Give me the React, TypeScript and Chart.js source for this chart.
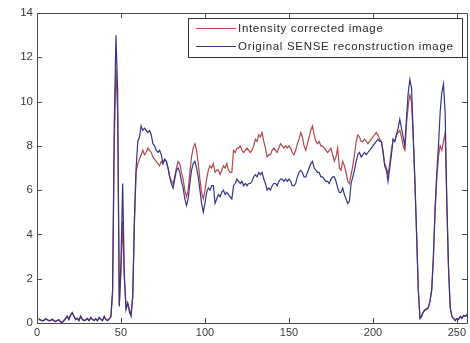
import React, { useEffect, useRef } from "react";
import { Chart, registerables } from "chart.js";

Chart.register(...registerables);

// sample positions along the profile (pixel index 1..256)
const sampleIndex: number[] = Array.from({ length: 256 }, (_, i) => i + 1);

const legendLabels = ["Intensity corrected image", "Original SENSE reconstruction image"];

const xTickValues = [0, 50, 100, 150, 200, 250];
const yTickValues = [0, 2, 4, 6, 8, 10, 12, 14];

// Intensity corrected image (red)
const correctedSeries: number[] = [
  0.18, 0.12, 0.12, 0.1, 0.18, 0.17, 0.12, 0.1, 0.15, 0.12,
  0.08, 0.12, 0.12, 0.06, 0.04, 0.12, 0.22, 0.32, 0.18, 0.38,
  0.48, 0.32, 0.18, 0.22, 0.12, 0.32, 0.18, 0.12, 0.12, 0.22,
  0.12, 0.22, 0.18, 0.12, 0.18, 0.12, 0.22, 0.18, 0.12, 0.28,
  0.18, 0.12, 0.18, 0.28,
  1.3, 8.0, 11.5, 9.5, 0.8, 2.3, 4.6, 2.0, 0.7, 0.9, 0.6, 0.4, 1.2, 4.5, 6.8, 7.2,
  7.4, 7.6, 7.8, 7.6, 7.7, 7.9, 7.8, 7.7, 7.5, 7.4,
  7.3, 7.2, 7.1, 7.3, 7.2, 7.4, 7.3, 7.0, 6.6, 6.4,
  6.3, 6.6, 7.0, 7.3, 7.2, 6.8, 6.5, 6.0, 5.7, 6.0,
  6.8, 7.5, 7.9, 8.1, 7.8, 7.2, 6.5, 5.9, 5.6, 6.0,
  6.5, 6.9, 7.1, 7.0, 7.2, 6.8, 6.9, 6.9, 6.7, 6.9,
  7.1, 7.0, 7.2, 6.9, 6.8, 6.8, 7.8, 7.7, 7.9, 7.9,
  8.0, 7.8, 7.7, 7.8,
  7.9, 7.8, 7.7, 7.8, 8.0, 8.3, 8.2, 8.5, 8.4, 8.6,
  8.2, 7.9, 7.5, 7.6, 7.6, 7.8, 7.9, 7.8, 7.7, 7.9,
  8.1, 8.0, 7.9, 8.0, 7.9, 8.0, 7.9, 7.7, 7.6, 7.8,
  8.1, 8.3, 8.6, 8.4, 8.0, 7.8, 8.1, 8.4, 8.7, 8.9,
  8.5, 8.2, 8.1, 8.2, 8.0, 8.0, 7.9, 7.8, 7.7, 7.8,
  7.9, 7.6, 7.3, 7.5, 7.9, 7.0, 6.9, 7.3, 7.1, 6.8,
  6.4, 6.3, 6.7, 7.1, 7.6, 8.2, 8.5, 8.4, 8.2, 8.2,
  8.3, 8.2, 8.1, 8.2, 8.3, 8.4,
  8.5, 8.6, 8.5, 8.3, 8.2, 7.8, 7.2, 7.0, 6.7, 7.2,
  7.8, 8.3, 8.2, 8.5, 8.6, 8.7, 8.4, 8.0, 7.8, 9.0,
  9.8, 10.3, 10.0, 8.3, 6.3, 4.0, 1.5, 0.25, 0.35, 0.5,
  0.6, 0.65, 0.7, 1.0, 1.5, 3.0, 5.0, 6.5, 7.5, 8.0,
  7.8, 8.2, 8.6, 5.3, 2.4, 0.7, 0.3, 0.2, 0.15, 0.2,
  0.2, 0.3, 0.25, 0.3, 0.3, 0.35,
];

// Original SENSE reconstruction image (blue)
const originalSeries: number[] = [
  0.2, 0.15, 0.1, 0.12, 0.2, 0.15, 0.1, 0.12, 0.18, 0.1,
  0.05, 0.1, 0.15, 0.05, 0.02, 0.1, 0.2, 0.3, 0.15, 0.35,
  0.45, 0.3, 0.15, 0.2, 0.1, 0.3, 0.15, 0.1, 0.15, 0.2,
  0.1, 0.25, 0.15, 0.1, 0.2, 0.1, 0.25, 0.15, 0.1, 0.3,
  0.15, 0.1, 0.2, 0.3,
  1.5, 9.0, 13.0, 10.5, 0.75, 2.8, 6.3, 2.2, 0.6, 0.9, 0.5, 0.3, 1.2, 4.7, 7.0, 8.2,
  8.4, 8.9, 8.7, 8.8, 8.7, 8.6, 8.7, 8.5, 8.1, 8.0,
  7.8, 7.7, 7.8, 7.6, 7.2, 7.4, 7.3, 7.0, 6.6, 6.3,
  6.1, 6.5, 6.9, 7.0, 6.8, 6.4, 6.1, 5.6, 5.3, 5.6,
  6.3, 6.9, 7.2, 7.3, 7.0, 6.6, 6.0, 5.4, 5.0, 5.4,
  5.9, 6.1, 6.0, 6.2, 6.2, 5.4, 5.6, 5.8, 5.7, 5.9,
  6.0, 5.8, 5.9, 5.8, 5.7, 5.6, 6.2, 6.3, 6.5, 6.4,
  6.3, 6.4, 6.2, 6.3,
  6.2, 6.3, 6.3, 6.4, 6.6, 6.7, 6.6, 6.8, 6.7, 6.8,
  6.5, 6.3, 6.0, 6.1, 6.0, 6.2, 6.3, 6.3, 6.2, 6.4,
  6.5, 6.5, 6.4, 6.5, 6.4, 6.5, 6.4, 6.2, 6.2, 6.3,
  6.6, 6.8, 6.9, 6.8, 6.6, 6.6, 6.8, 7.0, 7.2, 7.3,
  7.0, 6.9, 6.8, 6.8, 6.6, 6.6, 6.5, 6.4, 6.4, 6.3,
  6.5, 6.6, 6.6, 6.4, 6.1, 5.9, 5.9, 6.1, 5.8, 5.6,
  5.4, 5.5, 6.3, 6.6, 6.9, 7.3, 7.6, 7.7, 7.5, 7.6,
  7.7, 7.6, 7.7, 7.8, 7.9, 8.0,
  8.1, 8.2, 8.3, 8.2, 8.2, 7.7, 7.1, 6.9, 6.4, 7.0,
  7.6, 8.3, 8.2, 8.5, 8.8, 9.2, 8.8, 8.4, 8.0, 9.3,
  10.4, 11.0, 10.6, 8.5, 6.4, 4.0, 1.5, 0.2, 0.3, 0.5,
  0.6, 0.6, 0.7, 1.0, 1.5, 3.0, 5.2, 6.8, 8.0, 9.5,
  10.4, 10.8, 9.5, 5.5, 2.5, 0.7, 0.3, 0.2, 0.1, 0.2,
  0.15, 0.3, 0.2, 0.35, 0.3, 0.4,
];

const RED = "#b3474d";
const BLUE = "#35358a";
const AXIS = "#4a4a4a";
const FONT = "'Liberation Sans', Arial, sans-serif";

const framePlugin = {
  id: "matlabFrame",
  afterDatasetsDraw(chart: any) {
    const { ctx, chartArea, scales } = chart;
    const { left, right, top, bottom } = chartArea;
    ctx.save();
    ctx.strokeStyle = AXIS;
    ctx.lineWidth = 1;
    ctx.beginPath();
    ctx.rect(left + 0.5, top + 0.5, right - left, bottom - top);
    ctx.stroke();
    const tl = 5;
    ctx.beginPath();
    for (const v of xTickValues) {
      const px = Math.round(scales.x.getPixelForValue(v)) + 0.5;
      ctx.moveTo(px, bottom);
      ctx.lineTo(px, bottom - tl);
      ctx.moveTo(px, top);
      ctx.lineTo(px, top + tl);
    }
    for (const v of yTickValues) {
      const py = Math.round(scales.y.getPixelForValue(v)) + 0.5;
      ctx.moveTo(left, py);
      ctx.lineTo(left + tl, py);
      ctx.moveTo(right, py);
      ctx.lineTo(right - tl, py);
    }
    ctx.stroke();

    // legend box
    const bx = 188, by = 18, bw = 274, bh = 39;
    ctx.fillStyle = "#ffffff";
    ctx.fillRect(bx, by, bw, bh);
    ctx.strokeStyle = "#333333";
    ctx.strokeRect(bx + 0.5, by + 0.5, bw, bh);
    const rows = [
      { label: legendLabels[0], color: RED, y: 28 },
      { label: legendLabels[1], color: BLUE, y: 46 },
    ];
    ctx.font = `11.5px ${FONT}`;
    (ctx as any).letterSpacing = "0.68px";
    ctx.textBaseline = "middle";
    ctx.textAlign = "left";
    for (const r of rows) {
      ctx.strokeStyle = r.color;
      ctx.lineWidth = 1.2;
      ctx.beginPath();
      ctx.moveTo(196, r.y + 0.5);
      ctx.lineTo(236, r.y + 0.5);
      ctx.stroke();
      ctx.fillStyle = "#2a2a2a";
      ctx.fillText(r.label, 238, r.y + 1);
    }
    (ctx as any).letterSpacing = "0px";
    ctx.restore();
  },
};

export default function App() {
  const canvasRef = useRef<HTMLCanvasElement | null>(null);

  useEffect(() => {
    document.body.style.margin = "0";
    const canvas = canvasRef.current;
    if (!canvas) return;
    const chart = new Chart(canvas, {
      type: "line",
      data: {
        labels: sampleIndex,
        datasets: [
          {
            label: legendLabels[1],
            data: originalSeries,
            borderColor: BLUE,
            borderWidth: 1.2,
            pointRadius: 0,
            tension: 0,
            fill: false,
          },
          {
            label: legendLabels[0],
            data: correctedSeries,
            borderColor: RED,
            borderWidth: 1.2,
            pointRadius: 0,
            tension: 0,
            fill: false,
          },
        ],
      },
      options: {
        animation: false,
        responsive: false,
        devicePixelRatio: 1,
        layout: { padding: { left: 0, top: 13, right: 3, bottom: 0 } },
        plugins: {
          legend: { display: false },
          tooltip: { enabled: false },
        },
        scales: {
          x: {
            type: "linear",
            min: 0,
            max: 256,
            grid: { display: false, drawTicks: false },
            border: { display: false },
            afterFit: (scale: any) => {
              scale.height = 20;
            },
            afterBuildTicks: (scale: any) => {
              scale.ticks = xTickValues.map((v) => ({ value: v }));
            },
            ticks: {
              padding: 3,
              color: "#3a3a3a",
              font: { family: FONT, size: 11 },
              maxRotation: 0,
              autoSkip: false,
            },
          },
          y: {
            type: "linear",
            min: 0,
            max: 14,
            grid: { display: false, drawTicks: false },
            border: { display: false },
            afterFit: (scale: any) => {
              scale.width = 37;
            },
            afterBuildTicks: (scale: any) => {
              scale.ticks = yTickValues.map((v) => ({ value: v }));
            },
            ticks: {
              padding: 4,
              color: "#3a3a3a",
              font: { family: FONT, size: 11.5 },
            },
          },
        },
      },
      plugins: [framePlugin],
    });
    return () => chart.destroy();
  }, []);

  return (
    <div style={{ width: 470, height: 343, background: "#ffffff" }}>
      <canvas ref={canvasRef} width={470} height={343} style={{ display: "block" }} />
    </div>
  );
}
